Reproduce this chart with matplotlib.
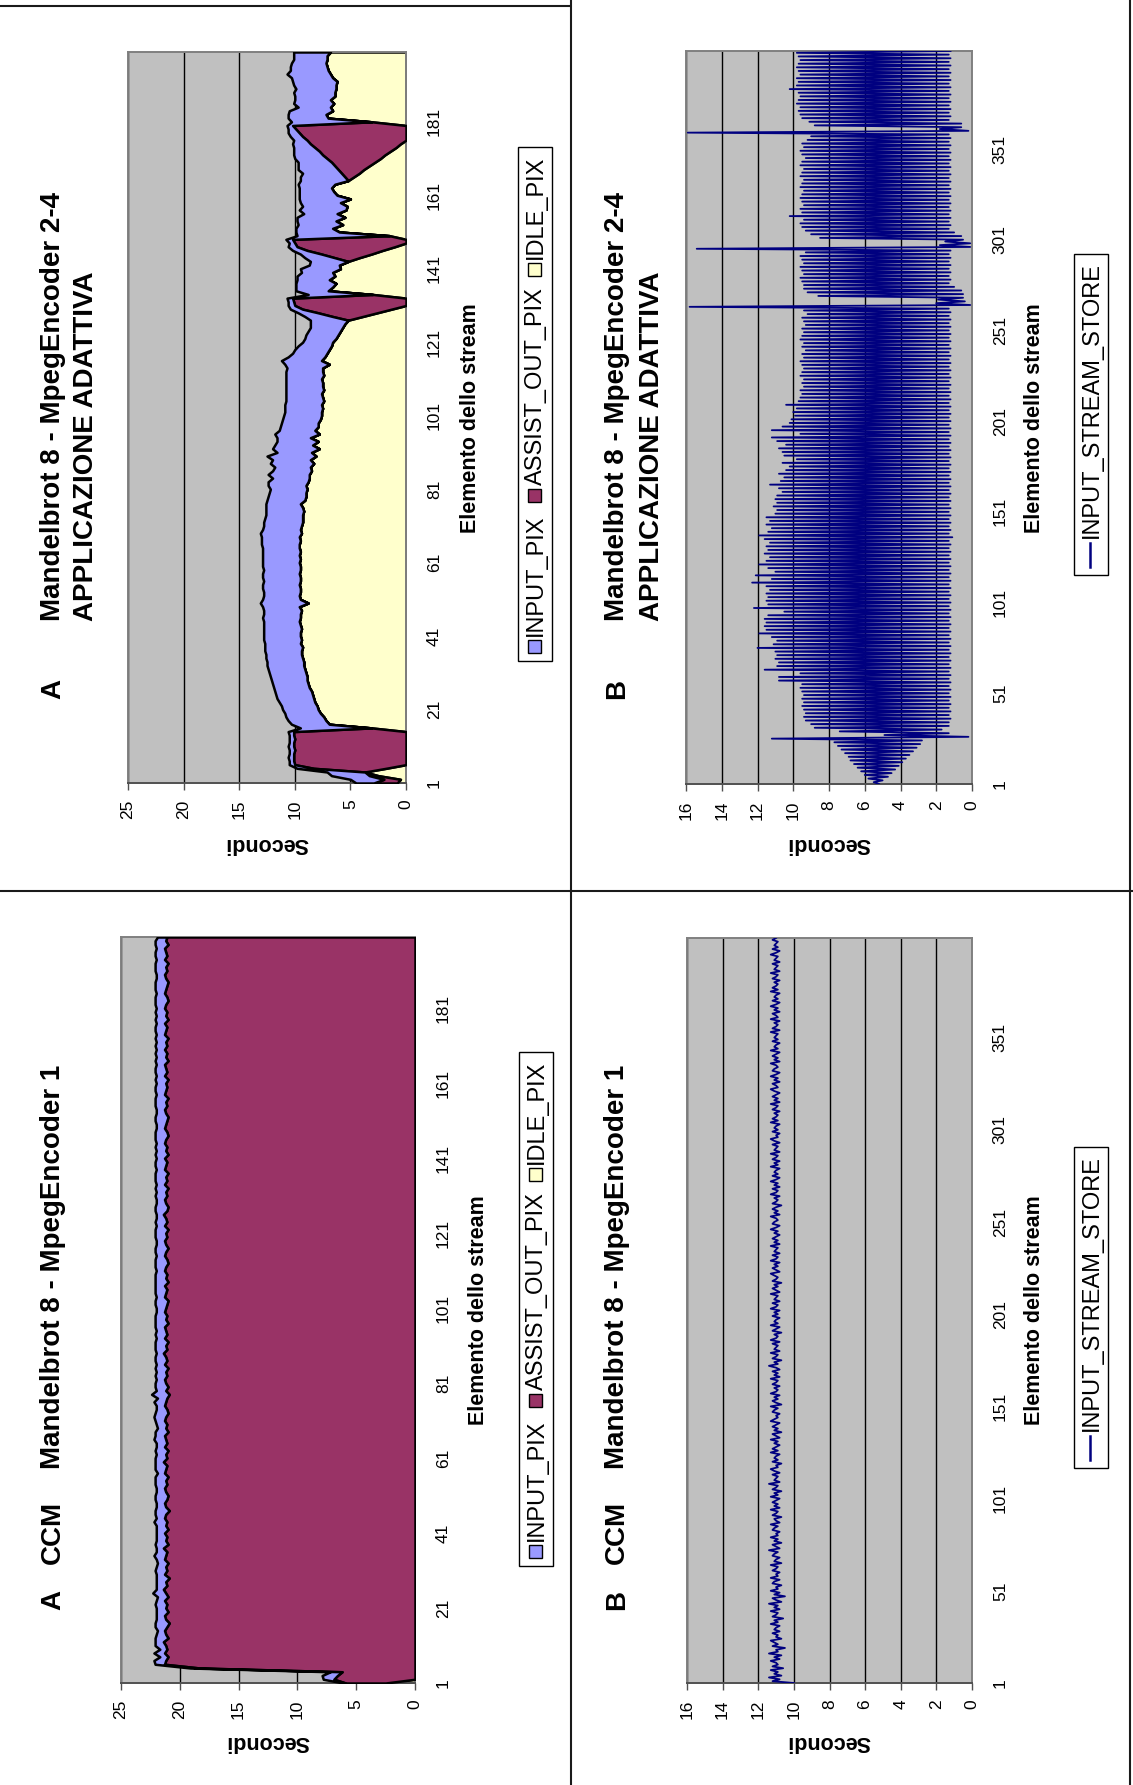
import numpy as np
import matplotlib
matplotlib.use("Agg")
import matplotlib.pyplot as plt
from matplotlib.patches import Rectangle

plt.rcParams['font.family'] = ['Liberation Sans', 'DejaVu Sans']

W, H = 1133, 1785

# ---------------- data ----------------
AREA_SERIES = ["INPUT_PIX", "ASSIST_OUT_PIX", "IDLE_PIX"]
LINE_SERIES = "INPUT_STREAM_STORE"

ELEM_TICKS_A = [1, 21, 41, 61, 81, 101, 121, 141, 161, 181]
ELEM_TICKS_B = [1, 51, 101, 151, 201, 251, 301, 351]
SEC_TICKS_A = [0, 5, 10, 15, 20, 25]
SEC_TICKS_B = [0, 2, 4, 6, 8, 10, 12, 14, 16]

# Mandelbrot 8 - MpegEncoder 2-4, adaptive application (seconds per stream element)
idle_adapt = [
    0.8, 0.5, 2.5, 3.7, 1.8, 0, 0, 0, 0, 0,
    0, 0, 0, 0, 0, 3.1, 6.9, 7.2, 7.4, 7.7,
    7.9, 8.0, 8.2, 8.3, 8.4, 8.5, 8.7, 8.8, 8.9, 8.9,
    9.0, 9.1, 9.2, 9.2, 9.3, 9.4, 9.4, 9.3, 9.5, 9.4,
    9.5, 9.5, 9.4, 9.5, 9.6, 9.5, 9.5, 9.4, 9.6, 8.8,
    9.5, 9.6, 9.5, 9.5, 9.6, 9.5, 9.5, 9.6, 9.5, 9.5,
    9.6, 9.5, 9.6, 9.5, 9.6, 9.6, 9.5, 9.6, 9.4, 9.5,
    9.4, 9.3, 9.3, 9.3, 9.2, 9.3, 9.5, 9.1, 9.0, 9.0,
    8.9, 9.0, 8.8, 8.7, 8.7, 8.5, 8.6, 8.3, 8.6, 8.1,
    8.5, 7.8, 8.4, 7.9, 8.6, 7.8, 8.2, 7.9, 7.9, 7.7,
    7.6, 7.6, 7.5, 7.6, 7.4, 7.5, 7.6, 7.4, 7.5, 7.5,
    7.6, 7.4, 7.5, 7.5, 6.9, 7.6, 7.3, 7.1, 6.9, 6.7,
    6.6, 6.3, 6.1, 5.9, 5.7, 5.5, 5.2, 3.9, 2.6, 1.3,
    0, 0, 0, 3.0, 7.0, 6.6, 6.3, 6.9, 6.4, 6.6,
    5.9, 6.0, 5.2, 4.2, 3.1, 2.1, 1.0, 0, 0, 1.5,
    6.0, 6.6, 5.7, 6.3, 5.5, 6.2, 5.4, 5.3, 5.9, 5.0,
    6.2, 6.5, 6.7, 6.4, 5.2, 4.7, 4.2, 3.8, 3.3, 2.8,
    2.3, 1.9, 1.4, 0.9, 0.5, 0, 0, 0, 0, 0,
    3.1, 7.0, 7.2, 6.6, 6.8, 6.5, 6.8, 6.4, 6.4, 6.3,
    6.3, 6.2, 6.6, 6.8, 7.0, 7.1, 7.2, 7.1, 7.1, 6.8,
]
assist_adapt = [
    2.1, 1.5, 0.8, 0, 6.5, 10.0, 10.1, 10.1, 10.1, 10.0,
    10.1, 10.1, 10.0, 10.1, 10.1, 0, 0, 0, 0, 0,
    0, 0, 0, 0, 0, 0, 0, 0, 0, 0,
    0, 0, 0, 0, 0, 0, 0, 0, 0, 0,
    0, 0, 0, 0, 0, 0, 0, 0, 0, 0,
    0, 0, 0, 0, 0, 0, 0, 0, 0, 0,
    0, 0, 0, 0, 0, 0, 0, 0, 0, 0,
    0, 0, 0, 0, 0, 0, 0, 0, 0, 0,
    0, 0, 0, 0, 0, 0, 0, 0, 0, 0,
    0, 0, 0, 0, 0, 0, 0, 0, 0, 0,
    0, 0, 0, 0, 0, 0, 0, 0, 0, 0,
    0, 0, 0, 0, 0, 0, 0, 0, 0, 0,
    0, 0, 0, 0, 0, 0, 0, 2.7, 5.3, 8.0,
    10.0, 10.1, 10.2, 0, 0, 0, 0, 0, 0, 0,
    0, 0, 0, 2.2, 4.5, 6.8, 8.8, 10.0, 10.2, 0,
    0, 0, 0, 0, 0, 0, 0, 0, 0, 0,
    0, 0, 0, 0, 0, 0.8, 1.6, 2.3, 3.1, 3.9,
    4.8, 5.6, 6.4, 7.3, 8.1, 8.9, 9.3, 9.6, 9.9, 10.2,
    0, 0, 0, 0, 0, 0, 0, 0, 0, 0,
    0, 0, 0, 0, 0, 0, 0, 0, 0, 0,
]
input_adapt = [
    1.6, 3.0, 3.4, 3.4, 1.5, 0.5, 0.4, 0.5, 0.4, 0.5,
    0.5, 0.4, 0.5, 0.4, 0.5, 6.4, 3.4, 3.4, 3.4, 3.2,
    3.2, 3.2, 3.2, 3.3, 3.3, 3.3, 3.2, 3.2, 3.2, 3.3,
    3.3, 3.3, 3.3, 3.3, 3.3, 3.2, 3.3, 3.4, 3.2, 3.4,
    3.3, 3.3, 3.4, 3.3, 3.2, 3.4, 3.3, 3.4, 3.3, 4.3,
    3.4, 3.2, 3.3, 3.4, 3.3, 3.3, 3.4, 3.3, 3.3, 3.4,
    3.3, 3.4, 3.3, 3.4, 3.3, 3.4, 3.5, 3.4, 3.7, 3.4,
    3.4, 3.5, 3.4, 3.3, 3.4, 3.3, 3.1, 3.4, 3.4, 3.3,
    3.3, 3.4, 3.6, 3.3, 3.7, 3.5, 3.2, 3.9, 3.4, 4.4,
    3.1, 4.2, 3.4, 3.7, 3.0, 4.0, 3.2, 3.4, 3.3, 3.4,
    3.4, 3.3, 3.4, 3.3, 3.4, 3.3, 3.2, 3.4, 3.3, 3.3,
    3.2, 3.4, 3.3, 3.2, 4.0, 3.6, 3.3, 3.1, 3.1, 3.0,
    2.7, 2.8, 2.9, 2.9, 2.9, 3.1, 3.4, 2.5, 1.8, 1.1,
    0.6, 0.5, 0.5, 5.8, 2.9, 3.3, 3.6, 2.9, 3.4, 2.8,
    3.6, 2.7, 3.4, 2.7, 1.9, 1.3, 0.8, 0.5, 0.6, 8.3,
    3.9, 3.3, 4.0, 3.5, 4.3, 3.0, 4.2, 4.0, 3.6, 4.6,
    3.4, 3.1, 2.9, 3.3, 4.3, 4.0, 3.5, 3.6, 3.3, 3.0,
    2.9, 2.6, 2.3, 1.9, 1.6, 1.2, 1.1, 1.0, 0.7, 0.5,
    7.2, 3.6, 3.4, 3.9, 2.9, 3.6, 3.2, 3.6, 3.7, 3.6,
    3.8, 4.0, 3.7, 3.9, 3.4, 3.3, 3.1, 3.0, 3.0, 3.3,
]

# CCM - Mandelbrot 8 - MpegEncoder 1
idle_ccm = [
    2.5, 0, 0, 0, 0, 0, 0, 0, 0, 0,
    0, 0, 0, 0, 0, 0, 0, 0, 0, 0,
    0, 0, 0, 0, 0, 0, 0, 0, 0, 0,
    0, 0, 0, 0, 0, 0, 0, 0, 0, 0,
    0, 0, 0, 0, 0, 0, 0, 0, 0, 0,
    0, 0, 0, 0, 0, 0, 0, 0, 0, 0,
    0, 0, 0, 0, 0, 0, 0, 0, 0, 0,
    0, 0, 0, 0, 0, 0, 0, 0, 0, 0,
    0, 0, 0, 0, 0, 0, 0, 0, 0, 0,
    0, 0, 0, 0, 0, 0, 0, 0, 0, 0,
    0, 0, 0, 0, 0, 0, 0, 0, 0, 0,
    0, 0, 0, 0, 0, 0, 0, 0, 0, 0,
    0, 0, 0, 0, 0, 0, 0, 0, 0, 0,
    0, 0, 0, 0, 0, 0, 0, 0, 0, 0,
    0, 0, 0, 0, 0, 0, 0, 0, 0, 0,
    0, 0, 0, 0, 0, 0, 0, 0, 0, 0,
    0, 0, 0, 0, 0, 0, 0, 0, 0, 0,
    0, 0, 0, 0, 0, 0, 0, 0, 0, 0,
    0, 0, 0, 0, 0, 0, 0, 0, 0, 0,
    0, 0, 0, 0, 0, 0, 0, 0, 0, 0,
]
assist_ccm = [
    3.4, 6.9, 6.6, 6.2, 18.3, 21.3, 21.2, 21.0, 21.3, 21.1,
    21.2, 21.4, 21.0, 21.2, 21.3, 21.1, 20.9, 21.2, 21.3, 21.0,
    21.2, 21.1, 21.3, 21.0, 21.2, 21.4, 21.1, 21.2, 20.9, 21.3,
    21.1, 21.2, 21.0, 21.3, 21.2, 21.1, 21.4, 21.0, 21.2, 21.1,
    21.3, 21.0, 21.2, 21.1, 21.3, 21.2, 20.9, 21.2, 21.3, 21.1,
    21.0, 21.2, 21.3, 21.1, 21.2, 21.0, 21.3, 21.2, 21.1, 21.4,
    21.1, 21.2, 21.0, 21.3, 21.1, 21.2, 21.3, 21.0, 21.2, 21.1,
    21.3, 21.2, 21.0, 21.1, 21.3, 21.2, 21.1, 20.9, 21.2, 21.0,
    21.2, 21.3, 21.1, 21.2, 21.0, 21.3, 21.1, 21.2, 21.4, 21.1,
    21.2, 21.0, 21.3, 21.1, 21.2, 21.3, 21.0, 21.2, 21.1, 21.3,
    21.2, 21.1, 21.0, 21.3, 21.2, 21.1, 21.3, 21.0, 21.2, 21.1,
    21.3, 21.2, 21.0, 21.1, 21.3, 21.2, 21.0, 21.2, 21.3, 21.1,
    21.2, 21.0, 21.3, 21.1, 21.2, 21.4, 21.1, 21.0, 21.2, 21.3,
    21.1, 21.2, 21.0, 21.3, 21.1, 21.2, 21.0, 21.3, 21.2, 21.1,
    21.3, 21.0, 21.2, 21.1, 21.3, 21.2, 21.0, 21.1, 21.3, 21.2,
    21.1, 21.0, 21.2, 21.3, 21.1, 21.2, 21.0, 21.3, 21.2, 21.1,
    21.2, 21.0, 21.3, 21.1, 21.2, 21.3, 21.0, 21.2, 21.1, 21.3,
    21.1, 21.2, 21.0, 21.3, 21.2, 21.1, 21.3, 21.0, 21.2, 21.1,
    21.3, 21.2, 21.0, 21.1, 21.3, 21.2, 21.1, 21.0, 21.2, 21.3,
    21.1, 21.2, 21.0, 21.3, 21.1, 21.2, 21.3, 21.0, 21.2, 21.1,
]
input_ccm = [
    0.2, 0.9, 1.3, 1.0, 0.8, 0.8, 1.0, 0.7, 0.9, 0.6,
    0.9, 0.7, 1.1, 0.8, 0.6, 1.0, 1.2, 0.8, 0.7, 1.0,
    0.8, 1.0, 0.7, 0.9, 1.1, 0.6, 0.9, 0.8, 1.1, 0.7,
    1.0, 0.8, 0.9, 0.7, 1.0, 0.9, 0.6, 1.1, 0.8, 0.9,
    0.7, 1.0, 0.8, 1.1, 0.7, 0.9, 1.2, 0.8, 0.7, 1.0,
    1.1, 0.8, 0.7, 1.0, 0.9, 1.1, 0.6, 0.9, 1.0, 0.7,
    1.0, 0.8, 1.1, 0.7, 0.9, 1.0, 0.8, 1.1, 0.7, 0.9,
    0.8, 1.0, 1.1, 0.9, 0.7, 1.0, 0.8, 1.5, 0.8, 1.1,
    0.9, 0.7, 1.0, 0.8, 1.1, 0.7, 1.0, 0.9, 0.6, 1.0,
    0.9, 1.1, 0.7, 1.0, 0.8, 0.8, 1.1, 0.9, 1.0, 0.7,
    0.8, 1.0, 1.1, 0.7, 0.9, 1.0, 0.8, 1.1, 0.9, 1.0,
    0.7, 0.9, 1.1, 1.0, 0.7, 0.9, 1.1, 0.8, 0.7, 1.0,
    0.9, 1.1, 0.7, 1.0, 0.8, 0.6, 1.0, 1.1, 0.8, 0.7,
    1.0, 0.8, 1.1, 0.7, 1.0, 0.9, 1.1, 0.7, 0.9, 1.0,
    0.7, 1.1, 0.8, 1.0, 0.7, 0.9, 1.1, 1.0, 0.7, 0.8,
    1.0, 1.1, 0.8, 0.7, 1.0, 0.9, 1.1, 0.7, 0.9, 1.0,
    0.8, 1.1, 0.7, 1.0, 0.9, 0.7, 1.1, 0.8, 1.0, 0.7,
    1.0, 0.8, 1.1, 0.7, 0.9, 1.0, 0.7, 1.1, 0.8, 1.0,
    0.7, 0.9, 1.1, 1.0, 0.7, 0.9, 1.0, 1.1, 0.8, 0.7,
    1.0, 0.9, 1.1, 0.7, 1.0, 0.9, 0.7, 1.1, 0.9, 0.8,
]

# INPUT_STREAM_STORE, adaptive application
stream_adapt = [
    5.2, 5.5, 5.0, 5.8, 4.7, 6.0, 4.5, 6.2, 4.3, 6.4,
    4.1, 6.6, 3.9, 6.8, 3.7, 6.9, 3.5, 7.1, 3.3, 7.3,
    3.1, 7.5, 2.9, 7.7, 2.8, 11.2, 0.2, 4.9, 1.3, 7.4,
    1.7, 8.8, 1.3, 9.0, 1.3, 9.3, 1.2, 9.4, 1.3, 9.3,
    1.2, 9.4, 1.3, 9.5, 1.2, 9.4, 1.3, 9.5, 1.2, 9.4,
    1.3, 9.5, 1.2, 9.6, 1.3, 9.5, 1.2, 10.8, 1.3, 10.8,
    1.2, 9.6, 1.3, 11.6, 1.2, 10.9, 1.3, 10.8, 1.2, 11.0,
    1.3, 10.9, 1.2, 11.0, 1.3, 12.0, 1.2, 11.1, 1.3, 10.9,
    1.2, 11.2, 1.3, 11.9, 1.2, 11.5, 1.3, 11.6, 1.2, 11.5,
    1.3, 11.6, 1.2, 11.4, 1.3, 10.5, 1.2, 12.2, 1.3, 11.4,
    1.2, 11.5, 1.3, 11.4, 1.2, 11.5, 1.3, 11.3, 1.2, 11.5,
    1.3, 12.3, 1.2, 11.2, 1.3, 12.1, 1.2, 11.0, 1.3, 11.4,
    1.2, 11.9, 1.3, 11.5, 1.2, 11.3, 1.3, 11.6, 1.2, 11.4,
    1.3, 11.5, 1.2, 11.3, 1.3, 11.6, 1.1, 11.9, 1.3, 11.4,
    1.2, 11.2, 1.3, 11.5, 1.2, 11.3, 1.3, 11.5, 1.2, 11.0,
    1.3, 10.9, 1.2, 11.1, 1.3, 10.9, 1.2, 11.0, 1.3, 10.9,
    1.2, 10.6, 1.3, 10.8, 1.2, 11.3, 1.3, 10.7, 1.2, 10.5,
    1.3, 10.8, 1.2, 10.4, 1.3, 10.2, 1.2, 10.6, 1.3, 9.8,
    1.2, 10.5, 1.3, 10.6, 1.2, 10.8, 1.3, 10.4, 1.2, 10.9,
    1.3, 11.2, 1.2, 9.6, 1.3, 11.2, 1.2, 10.6, 1.3, 10.2,
    1.2, 10.1, 1.3, 9.9, 1.2, 10.0, 1.3, 9.8, 1.2, 10.4,
    1.3, 9.7, 1.2, 9.6, 1.3, 9.5, 1.2, 9.6, 1.3, 9.4,
    1.2, 9.5, 1.3, 9.4, 1.2, 9.6, 1.3, 9.5, 1.2, 9.4,
    1.3, 9.5, 1.2, 9.6, 1.3, 9.4, 1.2, 9.5, 1.3, 9.3,
    1.2, 9.5, 1.3, 9.4, 1.2, 9.6, 1.3, 9.5, 1.2, 9.4,
    1.3, 9.5, 1.2, 9.3, 1.3, 9.4, 1.2, 9.5, 1.3, 9.2,
    1.2, 9.4, 1.3, 15.8, 0.1, 2.0, 0.4, 1.9, 0.5, 8.6,
    0.5, 9.2, 0.6, 9.4, 1.0, 9.4, 1.3, 9.5, 1.2, 9.6,
    1.3, 9.4, 1.2, 9.5, 1.3, 9.6, 1.2, 9.4, 1.3, 9.5,
    1.2, 9.6, 1.3, 9.3, 1.2, 15.4, 0.1, 1.8, 0.1, 1.5,
    0.5, 8.5, 0.6, 9.0, 1.0, 9.3, 1.3, 9.5, 1.2, 9.6,
    1.3, 9.4, 1.2, 10.2, 1.3, 9.5, 1.2, 9.6, 1.3, 9.4,
    1.2, 9.5, 1.3, 9.6, 1.2, 9.5, 1.3, 9.4, 1.2, 9.6,
    1.3, 9.5, 1.2, 9.4, 1.3, 9.6, 1.2, 9.5, 1.3, 9.4,
    1.2, 9.6, 1.3, 9.5, 1.2, 9.3, 1.3, 9.5, 1.2, 9.6,
    1.3, 9.4, 1.2, 9.5, 1.3, 9.2, 1.2, 9.0, 1.3, 15.9,
    0.2, 1.8, 0.6, 8.8, 0.6, 9.1, 1.3, 9.5, 1.2, 9.6,
    1.3, 9.7, 1.2, 9.6, 1.3, 9.8, 1.2, 9.7, 1.3, 9.6,
    1.2, 9.7, 1.3, 10.2, 1.2, 9.8, 1.3, 9.7, 1.2, 9.8,
    1.3, 9.6, 1.2, 9.7, 1.3, 9.8, 1.2, 9.7, 1.3, 9.6,
    1.2, 9.7, 1.3, 9.8, 1.2,
]

# INPUT_STREAM_STORE, CCM
stream_ccm = [
    10.0, 11.2, 10.8, 11.4, 10.7, 11.1, 10.9, 11.3, 10.6, 11.2,
    10.9, 11.0, 11.3, 10.8, 11.1, 10.7, 11.4, 10.9, 11.0, 10.5,
    11.2, 10.9, 11.1, 11.3, 10.7, 11.0, 10.9, 11.2, 10.8, 11.1,
    11.0, 10.8, 11.3, 10.9, 11.1, 10.6, 11.2, 11.0, 10.9, 11.3,
    10.8, 11.1, 10.9, 11.4, 10.7, 11.0, 11.2, 10.5, 11.1, 10.8,
    11.3, 10.9, 11.0, 10.7, 11.2, 11.1, 10.8, 11.3, 10.9, 11.0,
    10.8, 11.2, 11.0, 10.9, 11.3, 10.7, 11.1, 11.0, 10.8, 11.2,
    11.1, 10.9, 11.4, 10.8, 11.0, 11.2, 10.7, 11.1, 10.9, 11.3,
    10.9, 11.0, 10.8, 11.2, 11.1, 10.9, 11.3, 10.8, 11.0, 11.1,
    10.7, 11.2, 11.0, 10.9, 11.3, 10.8, 11.1, 10.9, 11.2, 11.0,
    10.8, 11.3, 10.9, 11.1, 10.7, 11.2, 11.0, 10.9, 11.4, 10.8,
    11.1, 11.0, 10.9, 11.2, 10.8, 11.1, 11.3, 10.9, 11.0, 10.7,
    11.2, 10.9, 11.1, 11.0, 10.8, 11.3, 10.9, 11.2, 11.0, 10.8,
    11.1, 10.9, 11.3, 10.8, 11.0, 11.2, 10.7, 11.1, 10.9, 11.2,
    11.0, 10.8, 11.3, 11.1, 10.9, 11.0, 10.8, 11.2, 11.1, 10.9,
    11.3, 10.7, 11.0, 11.2, 10.9, 11.1, 10.8, 11.3, 11.0, 10.9,
    11.1, 10.8, 11.2, 11.0, 10.9, 11.3, 10.8, 11.1, 10.9, 11.2,
    10.8, 11.0, 11.4, 10.9, 11.1, 10.7, 11.2, 11.0, 10.9, 11.3,
    10.8, 11.1, 11.0, 10.9, 11.2, 10.8, 11.3, 11.0, 10.9, 11.1,
    10.7, 11.2, 11.0, 10.8, 11.3, 10.9, 11.1, 11.0, 10.8, 11.2,
    10.9, 11.1, 10.8, 11.3, 11.0, 10.9, 11.2, 10.8, 11.1, 11.0,
    10.9, 11.3, 10.8, 11.0, 11.2, 10.9, 11.1, 10.7, 11.2, 11.0,
    10.9, 11.1, 11.3, 10.8, 11.0, 11.2, 10.9, 11.1, 10.8, 11.3,
    11.0, 10.9, 11.2, 10.8, 11.1, 11.0, 10.9, 11.3, 10.8, 11.1,
    10.9, 11.2, 11.0, 10.8, 11.1, 10.9, 11.3, 11.0, 10.8, 11.2,
    11.1, 10.9, 11.0, 11.3, 10.8, 11.1, 10.9, 11.2, 11.0, 10.7,
    11.2, 11.0, 10.9, 11.1, 10.8, 11.3, 11.0, 10.9, 11.2, 10.8,
    11.1, 10.9, 11.3, 11.0, 10.8, 11.2, 10.9, 11.1, 11.0, 10.8,
    11.3, 10.9, 11.1, 10.8, 11.2, 11.0, 10.9, 11.3, 10.8, 11.1,
    11.0, 10.9, 11.2, 10.8, 11.1, 11.3, 10.9, 11.0, 10.8, 11.2,
    10.9, 11.1, 11.0, 10.8, 11.3, 10.9, 11.2, 11.0, 10.9, 11.1,
    10.8, 11.2, 11.0, 10.9, 11.3, 10.8, 11.1, 10.9, 11.2, 11.0,
    10.8, 11.1, 11.3, 10.9, 11.0, 11.2, 10.8, 11.1, 10.9, 11.3,
    11.0, 10.8, 11.2, 11.1, 10.9, 11.0, 11.3, 10.8, 11.1, 10.9,
    11.2, 11.0, 10.8, 11.3, 10.9, 11.1, 11.0, 10.8, 11.2, 10.9,
    11.1, 11.0, 10.9, 11.3, 10.8, 11.2, 11.0, 10.9, 11.1, 10.8,
    11.3, 10.9, 11.0, 11.2, 10.8, 11.1, 10.9, 11.3, 11.0, 10.8,
    11.2, 10.9, 11.1, 11.0, 10.8, 11.3, 10.9, 11.2, 11.0, 10.9,
    11.1, 10.8, 11.2, 11.0, 10.9, 11.3, 10.8, 11.1, 11.0, 10.9,
    11.2, 10.8, 11.1, 11.0, 10.9, 11.3, 11.0, 10.8, 11.2, 10.9,
    11.1, 11.0, 10.9, 11.2, 11.0,
]

# ---------------- styling ----------------
COL_INPUT = "#9999FF"
COL_ASSIST = "#993366"
COL_IDLE = "#FFFFCC"
COL_LINE = "#000080"
PLOT_BG = "#C0C0C0"
TICK_SIZE = 12.5
LABEL_SIZE = 15.5
TITLE_SIZE = 20
LEGEND_SIZE = 17

fig = plt.figure(figsize=(W / 100, H / 100), dpi=100)
fig.patch.set_facecolor("white")


def px_axes(x0, y0, x1, y1):
    return fig.add_axes([x0 / W, 1 - y1 / H, (x1 - x0) / W, (y1 - y0) / H])


def style_panel(ax, smax, sticks, eticks, n):
    ax.set_facecolor(PLOT_BG)
    ax.set_xlim(smax, 0)
    ax.set_ylim(1, n)
    ax.set_xticks(sticks)
    ax.set_yticks(eticks)
    ax.set_xticklabels([str(t) for t in sticks])
    ax.set_yticklabels([str(t) for t in eticks])
    ax.xaxis.grid(True, color="black", lw=1.0)
    ax.yaxis.grid(False)
    ax.set_axisbelow(True)
    for side in ("left", "top", "right"):
        ax.spines[side].set_color("#808080")
        ax.spines[side].set_linewidth(1.4)
    ax.spines["bottom"].set_color("#505050")
    ax.spines["bottom"].set_linewidth(1.4)
    ax.tick_params(axis="x", direction="out", length=5, width=1, color="#505050",
                   pad=7, labelsize=TICK_SIZE, labelrotation=90)
    ax.tick_params(axis="y", length=0, pad=15, labelsize=TICK_SIZE, labelrotation=90,
                   left=False, right=True, labelleft=False, labelright=True)
    for lab in ax.get_yticklabels():
        lab.set_va("center")


def area_panel(rect, idle, assist, inp):
    ax = px_axes(*rect)
    n = min(len(idle), len(assist), len(inp))
    e = np.arange(1, n + 1)
    c1 = np.asarray(idle[:n], float)
    c2 = c1 + np.asarray(assist[:n], float)
    c3 = c2 + np.asarray(inp[:n], float)
    ax.fill_betweenx(e, 0, c1, facecolor=COL_IDLE, edgecolor="black", lw=1.8, zorder=2)
    ax.fill_betweenx(e, c1, c2, facecolor=COL_ASSIST, edgecolor="black", lw=1.8, zorder=3)
    ax.fill_betweenx(e, c2, c3, facecolor=COL_INPUT, edgecolor="black", lw=1.8, zorder=4)
    style_panel(ax, 25, SEC_TICKS_A, ELEM_TICKS_A, n)
    return ax


def line_panel(rect, values):
    ax = px_axes(*rect)
    n = len(values)
    e = np.arange(1, n + 1)
    ax.plot(values, e, color=COL_LINE, lw=1.3, zorder=3)
    style_panel(ax, 16, SEC_TICKS_B, ELEM_TICKS_B, n)
    return ax


area_panel((128, 52, 406, 783), idle_adapt, assist_adapt, input_adapt)
area_panel((121, 937, 415, 1683), idle_ccm, assist_ccm, input_ccm)
line_panel((686, 51, 972, 784), stream_adapt)
line_panel((687, 938, 972, 1683), stream_ccm)

# ---------------- page overlay: titles, labels, legends, frames ----------------
ov = fig.add_axes([0, 0, 1, 1], zorder=10)
ov.set_xlim(0, W)
ov.set_ylim(H, 0)
ov.axis("off")
ov.patch.set_visible(False)


def vtext(x, y, s, size, weight="normal", ha="left"):
    return ov.text(x, y, s, rotation=90, rotation_mode="anchor", ha=ha, va="center",
                   fontsize=size, fontweight=weight)


# titles
vtext(53, 689, "A", TITLE_SIZE, "bold", "center")
vtext(53, 621, "Mandelbrot 8 - MpegEncoder 2-4", TITLE_SIZE, "bold")
vtext(86, 621, "APPLICAZIONE ADATTIVA", TITLE_SIZE, "bold")
vtext(53, 1600, "A", TITLE_SIZE, "bold", "center")
vtext(53, 1532, "CCM", TITLE_SIZE, "bold", "center")
vtext(53, 1469, "Mandelbrot 8 - MpegEncoder 1", TITLE_SIZE, "bold")
vtext(617, 689, "B", TITLE_SIZE, "bold", "center")
vtext(617, 621, "Mandelbrot 8 - MpegEncoder 2-4", TITLE_SIZE, "bold")
vtext(652, 621, "APPLICAZIONE ADATTIVA", TITLE_SIZE, "bold")
vtext(617, 1600, "B", TITLE_SIZE, "bold", "center")
vtext(617, 1532, "CCM", TITLE_SIZE, "bold", "center")
vtext(617, 1469, "Mandelbrot 8 - MpegEncoder 1", TITLE_SIZE, "bold")

# axis titles
for (x, y) in [(267, 843), (268, 1741), (829, 843), (829, 1741)]:
    ov.text(x, y, "Secondi", rotation=180, rotation_mode="anchor", ha="center",
            va="center", fontsize=LABEL_SIZE, fontweight="bold")
for (x, y) in [(470, 418), (479, 1310), (1034, 418), (1034, 1310)]:
    vtext(x, y, "Elemento dello stream", LABEL_SIZE, "bold", "center")

renderer = fig.canvas.get_renderer()


def text_len(s, size):
    t = ov.text(0, 0, s, rotation=90, fontsize=size)
    L = t.get_window_extent(renderer).height
    t.remove()
    return L


def area_legend(xc, yc):
    sq, gap, sep, pad, bw = 13, 4, 12, 8, 34
    labels = AREA_SERIES
    colors = [COL_INPUT, COL_ASSIST, COL_IDLE]
    lens = [text_len(s, LEGEND_SIZE) for s in labels]
    total = 2 * pad + sum(sq + gap + L for L in lens) + sep * (len(labels) - 1)
    ov.add_patch(Rectangle((xc - bw / 2, yc - total / 2), bw, total, facecolor="white",
                           edgecolor="black", lw=1.0, zorder=1))
    y = yc + total / 2 - pad
    for col, lab, L in zip(colors, labels, lens):
        ov.add_patch(Rectangle((xc - sq / 2 - 1, y - sq), sq, sq, facecolor=col,
                               edgecolor="black", lw=1.0, zorder=2))
        vtext(xc + 1, y - sq - gap, lab, LEGEND_SIZE)
        y -= sq + gap + L + sep


def line_legend(xc, yc):
    ln, gap, pad, bw = 24, 5, 8, 34
    L = text_len(LINE_SERIES, LEGEND_SIZE)
    total = 2 * pad + ln + gap + L
    ov.add_patch(Rectangle((xc - bw / 2, yc - total / 2), bw, total, facecolor="white",
                           edgecolor="black", lw=1.0, zorder=1))
    y = yc + total / 2 - pad
    ov.plot([xc - 1, xc - 1], [y, y - ln], color=COL_LINE, lw=1.8, zorder=2)
    vtext(xc + 1, y - ln - gap, LINE_SERIES, LEGEND_SIZE)


area_legend(535, 404)
area_legend(536, 1309)
line_legend(1091, 414)
line_legend(1091, 1307)

# page frame
fk = dict(color="#1a1a1a", lw=1.5, solid_capstyle="butt")
ov.plot([570.5, 570.5], [0, H], **fk)
ov.plot([0, W], [891, 891], **fk)
ov.plot([1130, 1130], [0, H], **fk)
ov.plot([0, 570.5], [6, 6], **fk)

fig.savefig("out.png", dpi=100, facecolor="white")
